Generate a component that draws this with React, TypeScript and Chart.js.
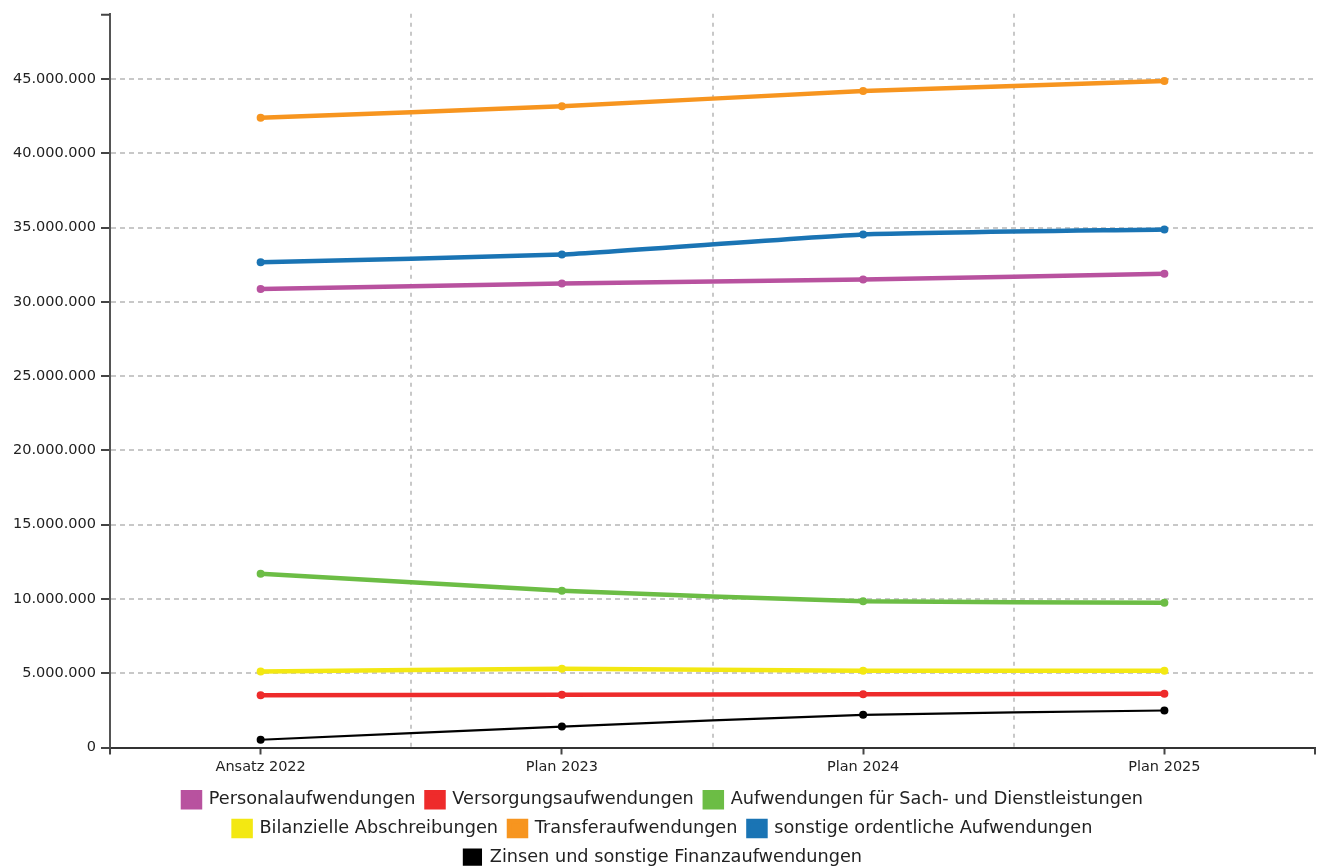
import React, { useEffect, useRef } from "react";
import { Chart, registerables } from "chart.js";

Chart.register(...registerables);

const categories = ["Ansatz 2022", "Plan 2023", "Plan 2024", "Plan 2025"];
const personal = [30870000, 31240000, 31510000, 31890000];
const versorgung = [3520000, 3550000, 3590000, 3620000];
const sachDienst = [11700000, 10560000, 9840000, 9750000];
const abschreibungen = [5120000, 5300000, 5170000, 5170000];
const transfer = [42390000, 43170000, 44190000, 44870000];
const sonstige = [32670000, 33190000, 34540000, 34880000];
const zinsen = [520000, 1410000, 2200000, 2490000];

const seriesNames = [
  "Personalaufwendungen",
  "Versorgungsaufwendungen",
  "Aufwendungen für Sach- und Dienstleistungen",
  "Bilanzielle Abschreibungen",
  "Transferaufwendungen",
  "sonstige ordentliche Aufwendungen",
  "Zinsen und sonstige Finanzaufwendungen",
];
const seriesColors = ["#b8529f", "#ee2b2b", "#6cbd45", "#f3e812", "#f7951f", "#1a74b4", "#000000"];
const seriesWidths = [4.5, 4.5, 4.5, 4.5, 4.5, 4.5, 2.2];

const yTicks = [0, 5000000, 10000000, 15000000, 20000000, 25000000, 30000000, 35000000, 40000000, 45000000];
const yMax = 49400000;

const fmt = (v: number) => String(Math.round(v)).replace(/\B(?=(\d{3})+(?!\d))/g, ".");

const FONT = "'DejaVu Sans', Verdana, sans-serif";
const LEGEND_ROW_WIDTH = 1180;

const legendWrap = {
  id: "legendWrap",
  beforeUpdate(chart: any) {
    const leg = chart.legend;
    if (!leg || leg.__wrapped) return;
    const orig = leg._fitRows;
    if (typeof orig !== "function") return;
    leg._fitRows = function (...args: any[]) {
      const mw = this.maxWidth;
      this.maxWidth = Math.min(mw, LEGEND_ROW_WIDTH);
      const h = orig.apply(this, args);
      this.maxWidth = mw;
      return h;
    };
    leg.__wrapped = true;
  },
};

const edgeTicks = {
  id: "edgeTicks",
  afterDraw(chart: any) {
    const { ctx, chartArea } = chart;
    ctx.save();
    ctx.strokeStyle = "#444";
    ctx.lineWidth = 2;
    ctx.beginPath();
    [chartArea.left, chartArea.right].forEach((x: number) => {
      ctx.moveTo(x, chartArea.bottom);
      ctx.lineTo(x, chartArea.bottom + 7);
    });
    ctx.moveTo(chartArea.left - 9, chartArea.top + 1);
    ctx.lineTo(chartArea.left, chartArea.top + 1);
    ctx.stroke();
    ctx.restore();
  },
};

export default function App() {
  const ref = useRef<HTMLCanvasElement | null>(null);
  useEffect(() => {
    if (!ref.current) return;
    const values = [personal, versorgung, sachDienst, abschreibungen, transfer, sonstige, zinsen];
    const chart = new Chart(ref.current, {
      type: "line",
      data: {
        labels: categories,
        datasets: values.map((d, i) => ({
          label: seriesNames[i],
          data: d,
          borderColor: seriesColors[i],
          backgroundColor: seriesColors[i],
          borderWidth: seriesWidths[i],
          pointRadius: 4,
          pointBorderWidth: 0,
          pointBackgroundColor: seriesColors[i],
          tension: 0.15,
          fill: false,
        })),
      },
      options: {
        animation: false,
        responsive: true,
        maintainAspectRatio: false,
        layout: { padding: { left: 0, right: 1, top: 4, bottom: 0 } },
        plugins: {
          tooltip: { enabled: false },
          legend: {
            position: "bottom",
            labels: {
              boxWidth: 17,
              boxHeight: 15,
              padding: 11,
              color: "#222",
              font: { family: FONT, size: 17.7 },
            },
          },
        },
        scales: {
          x: {
            type: "category",
            offset: true,
            grid: {
              offset: false,
              drawOnChartArea: false,
              tickLength: 7,
              tickColor: "#444",
              tickWidth: 2,
            },
            border: { display: true, color: "#333", width: 2 },
            ticks: {
              color: "#222",
              padding: 4,
              font: { family: FONT, size: 14.5 },
            },
          },
          x2: {
            type: "category",
            position: "bottom",
            offset: true,
            grid: {
              offset: true,
              drawOnChartArea: true,
              drawTicks: false,
              color: (c: any) =>
                c.type !== "tick" || c.index === 0 ? "rgba(0,0,0,0)" : "#c8c8c8",
              lineWidth: 2,
            },
            border: { display: false, dash: [4, 5] },
            ticks: { display: false },
          },
          y: {
            min: 0,
            max: yMax,
            afterBuildTicks: (scale: any) => {
              scale.ticks = yTicks.concat([yMax]).map((v) => ({ value: v }));
            },
            grid: {
              color: (c: any) =>
                c.tick && c.tick.value > 0 && c.tick.value < yMax ? "#c8c8c8" : "rgba(0,0,0,0)",
              lineWidth: 2,
              tickColor: "#444",
              tickLength: 9,
              tickWidth: 2,
            },
            border: { display: true, color: "#555", width: 2, dash: [5, 4] },
            ticks: {
              padding: 5,
              color: "#222",
              font: { family: FONT, size: 14.5 },
              callback: (v: any) => (Number(v) >= yMax ? null : fmt(Number(v))),
            },
          },
        },
      },
      plugins: [legendWrap, edgeTicks],
    });
    return () => chart.destroy();
  }, []);
  return (
    <div style={{ width: 1311, height: 876, marginTop: -8, position: "relative" }}>
      <canvas ref={ref} />
    </div>
  );
}
